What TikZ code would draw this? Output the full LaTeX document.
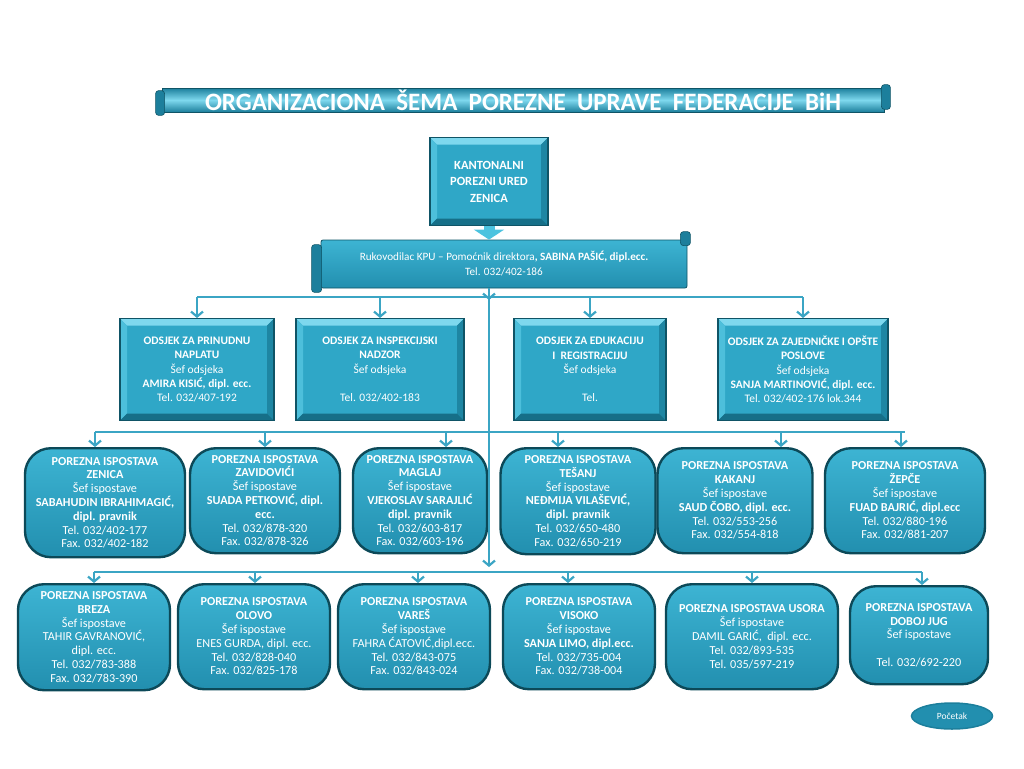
\documentclass[tikz,border=0pt]{standalone}
\usepackage{fontspec}
\setmainfont{Carlito}
\usepackage{tikz}
\usetikzlibrary{shapes,arrows.meta}
\definecolor{boxmain}{HTML}{2FA7C7}
\definecolor{bevtop}{HTML}{7ED8EE}
\definecolor{bevleft}{HTML}{4DBFDB}
\definecolor{bevright}{HTML}{1E86A3}
\definecolor{bevbot}{HTML}{166F88}
\definecolor{bevdark}{HTML}{0F5466}
\definecolor{isptop}{HTML}{3DB4D3}
\definecolor{ispbot}{HTML}{228FAF}
\definecolor{ispdark}{HTML}{0C4958}
\definecolor{linecol}{HTML}{3BA5C4}
\definecolor{rolldark}{HTML}{1C7F9C}
\definecolor{arrowlight}{HTML}{4CC3DF}

\tikzset{
  odsjek/.style={draw=bevdark, line width=1.2pt, fill=boxmain, anchor=north,
    minimum height=102pt, inner sep=1pt, text=white, align=center,
    font=\fontsize{11.5}{14.2}\selectfont,
    path picture={
      \coordinate (nw) at (path picture bounding box.north west);
      \coordinate (ne) at (path picture bounding box.north east);
      \coordinate (sw) at (path picture bounding box.south west);
      \coordinate (se) at (path picture bounding box.south east);
      \fill[bevtop] (nw) -- (ne) -- ([shift={(-7pt,-7pt)}]ne) -- ([shift={(7pt,-7pt)}]nw) -- cycle;
      \fill[bevleft] (nw) -- (sw) -- ([shift={(7pt,7pt)}]sw) -- ([shift={(7pt,-7pt)}]nw) -- cycle;
      \fill[bevright] (ne) -- (se) -- ([shift={(-7pt,7pt)}]se) -- ([shift={(-7pt,-7pt)}]ne) -- cycle;
      \fill[bevbot] (sw) -- (se) -- ([shift={(-7pt,7pt)}]se) -- ([shift={(7pt,7pt)}]sw) -- cycle;
    }},
  isp/.style={draw=ispdark, line width=2.4pt, rounded corners=26pt, anchor=north,
    top color=isptop, bottom color=ispbot, inner sep=1pt, text=white, align=center,
    font=\fontsize{12.2}{13.8}\selectfont},
  roll/.style={fill=rolldark, draw=bevdark, line width=0.6pt, rounded corners=3pt},
  conn/.style={draw=linecol, line width=2.2pt},
  downtip/.style={-{Straight Barb[length=5pt,width=12pt]}}
}

\begin{document}
\begin{tikzpicture}[x=1pt, y=-1pt]
  \useasboundingbox (0,0) rectangle (1024,768);

  \node[draw=bevdark, line width=0.8pt, top color=rolldark, bottom color=rolldark, middle color=bevtop,
    minimum width=722pt, minimum height=24pt, inner sep=0pt, text=white,
    font=\bfseries\fontsize{25}{26}\selectfont] (title) at (523,100)
    {ORGANIZACIONA~ ŠEMA~ POREZNE~ UPRAVE~ FEDERACIJE~ BiH};
  \draw[roll] ([shift={(-6pt,-3pt)}]title.north west) rectangle ([shift={(3pt,-3pt)}]title.south west);
  \draw[roll] ([shift={(-3pt,3pt)}]title.north east) rectangle ([shift={(6pt,3pt)}]title.south east);

  \node[odsjek, minimum width=118pt, minimum height=88pt, font=\bfseries\fontsize{12.5}{16.5}\selectfont]
    (kant) at (489,137) {KANTONALNI\\ POREZNI URED\\ ZENICA};

  \node[draw=bevdark, line width=0.8pt, top color=isptop, bottom color=ispbot, rounded corners=2pt,
    minimum width=366pt, minimum height=48pt, inner sep=1pt, text=white, align=center,
    font=\fontsize{11.2}{15}\selectfont] (ruk) at (504,264)
    {Rukovodilac KPU – Pomoćnik direktora\textbf{, SABINA PAŠIĆ, dipl.ecc.}\\ Tel. 032/402-186};
  \draw[roll] ([shift={(-9pt,-5pt)}]ruk.north west) rectangle ([shift={(1pt,-4pt)}]ruk.south west);
  \draw[roll] ([shift={(-7pt,8pt)}]ruk.north east) rectangle ([shift={(3pt,-6pt)}]ruk.north east);

  \draw[draw=arrowlight, line width=11pt, -{Triangle[length=10pt,width=30pt]}] (kant.south) -- (kant.south |- ruk.north);

  \node[odsjek, minimum width=154pt] (oA) at (197,318)
    {\textbf{ODSJEK ZA PRINUDNU}\\ \textbf{NAPLATU}\\ Šef odsjeka\\ \textbf{AMIRA KISIĆ, dipl. ecc.}\\ Tel. 032/407-192};
  \node[odsjek, minimum width=168pt] (oB) at (380,318)
    {\textbf{ODSJEK ZA INSPEKCIJSKI}\\ \textbf{NADZOR}\\ Šef odsjeka\\ ~\\ Tel. 032/402-183};
  \node[odsjek, minimum width=152pt] (oC) at (590,318)
    {\textbf{ODSJEK ZA EDUKACIJU}\\ \textbf{I~ REGISTRACIJU}\\ Šef odsjeka\\ ~\\ Tel.};
  \node[odsjek, minimum width=170pt] (oD) at (803,318)
    {\textbf{ODSJEK ZA ZAJEDNIČKE I OPŠTE}\\ \textbf{POSLOVE}\\ Šef odsjeka\\ \textbf{SANJA MARTINOVIĆ, dipl. ecc.}\\ Tel. 032/402-176 lok.344};

  \node[isp, minimum width=160pt, minimum height=109pt] (zen) at (105,447)
    {\textbf{POREZNA ISPOSTAVA}\\ \textbf{ZENICA}\\ Šef ispostave\\ \textbf{SABAHUDIN IBRAHIMAGIĆ,}\\ \textbf{dipl. pravnik}\\ Tel. 032/402-177\\ Fax. 032/402-182};
  \node[isp, minimum width=150pt, minimum height=105pt] (zav) at (265,447)
    {\textbf{POREZNA ISPOSTAVA}\\ \textbf{ZAVIDOVIĆI}\\ Šef ispostave\\ \textbf{SUADA PETKOVIĆ, dipl.}\\ \textbf{ecc.}\\ Tel. 032/878-320\\ Fax. 032/878-326};
  \node[isp, minimum width=134pt, minimum height=105pt] (mag) at (420,447)
    {\textbf{POREZNA ISPOSTAVA}\\ \textbf{MAGLAJ}\\ Šef ispostave\\ \textbf{VJEKOSLAV SARAJLIĆ}\\ \textbf{dipl. pravnik}\\ Tel. 032/603-817\\ Fax. 032/603-196};
  \node[isp, minimum width=155pt, minimum height=106pt] (tes) at (578,447)
    {\textbf{POREZNA ISPOSTAVA}\\ \textbf{TEŠANJ}\\ Šef ispostave\\ \textbf{NEĐMIJA VILAŠEVIĆ,}\\ \textbf{dipl. pravnik}\\ Tel. 032/650-480\\ Fax. 032/650-219};
  \node[isp, minimum width=155pt, minimum height=105pt] (kak) at (735,447)
    {\textbf{POREZNA ISPOSTAVA}\\ \textbf{KAKANJ}\\ Šef ispostave\\ \textbf{SAUD ČOBO, dipl. ecc.}\\ Tel. 032/553-256\\ Fax. 032/554-818};
  \node[isp, minimum width=160pt, minimum height=105pt] (zep) at (905,447)
    {\textbf{POREZNA ISPOSTAVA}\\ \textbf{ŽEPČE}\\ Šef ispostave\\ \textbf{FUAD BAJRIĆ, dipl.ecc}\\ Tel. 032/880-196\\ Fax. 032/881-207};

  \node[isp, minimum width=152pt, minimum height=106pt] (bre) at (94,583)
    {\textbf{POREZNA ISPOSTAVA}\\ \textbf{BREZA}\\ Šef ispostave\\ TAHIR GAVRANOVIĆ,\\ dipl. ecc.\\ Tel. 032/783-388\\ Fax. 032/783-390};
  \node[isp, minimum width=152pt, minimum height=105pt] (olo) at (254,583)
    {\textbf{POREZNA ISPOSTAVA}\\ \textbf{OLOVO}\\ Šef ispostave\\ ENES GURDA, dipl. ecc.\\ Tel. 032/828-040\\ Fax. 032/825-178};
  \node[isp, minimum width=152pt, minimum height=105pt] (var) at (414,583)
    {\textbf{POREZNA ISPOSTAVA}\\ \textbf{VAREŠ}\\ Šef ispostave\\ FAHRA ĆATOVIĆ,dipl.ecc.\\ Tel. 032/843-075\\ Fax. 032/843-024};
  \node[isp, minimum width=152pt, minimum height=105pt] (vis) at (579,583)
    {\textbf{POREZNA ISPOSTAVA}\\ \textbf{VISOKO}\\ Šef ispostave\\ \textbf{SANJA LIMO, dipl.ecc.}\\ Tel. 032/735-004\\ Fax. 032/738-004};
  \node[isp, minimum width=172pt, minimum height=105pt] (uso) at (752,583)
    {\textbf{POREZNA ISPOSTAVA USORA}\\ Šef ispostave\\ DAMIL GARIĆ,~ dipl. ecc.\\ Tel. 032/893-535\\ Tel. 035/597-219};
  \node[isp, minimum width=138pt, minimum height=98pt] (dob) at (919,585)
    {\textbf{POREZNA ISPOSTAVA}\\ \textbf{DOBOJ JUG}\\ Šef ispostave\\ ~\\ Tel. 032/692-220};

  \node[ellipse, fill=ispbot, draw=rolldark, line width=1.5pt, minimum width=81pt, minimum height=26pt,
    inner sep=0pt, text=white, font=\fontsize{9.5}{10}\selectfont] (poc) at (952,716) {Početak};

  \coordinate (j1) at (489,297);
  \coordinate (j2) at (489,432);
  \coordinate (j3) at (489,572);

  \draw[conn, downtip] (ruk.south -| j1) -- ([yshift=-3pt]j1);
  \draw[conn, downtip] (j1) -- ([yshift=5pt]j3);
  \draw[conn] (oA.north |- j1) -- (oD.north |- j1);
  \foreach \n in {oA,oB,oC,oD}
    \draw[conn, downtip] (\n.north |- j1) -- (\n.north);

  \draw[conn] ([xshift=-10pt]zen.north |- j2) -- (zep.north |- j2);
  \foreach \n/\s in {zen/-10,zav/0,mag/26,tes/-20,kak/46,zep/-4}
    \draw[conn, downtip] ([xshift=\s pt]\n.north |- j2) -- ([xshift=\s pt]\n.north);

  \draw[conn] (bre.north |- j3) -- ([xshift=3pt]dob.north |- j3);
  \foreach \n/\s in {bre/0,olo/1,var/4,vis/-11,uso/0,dob/3}
    \draw[conn, downtip] ([xshift=\s pt]\n.north |- j3) -- ([xshift=\s pt]\n.north);
\end{tikzpicture}
\end{document}
